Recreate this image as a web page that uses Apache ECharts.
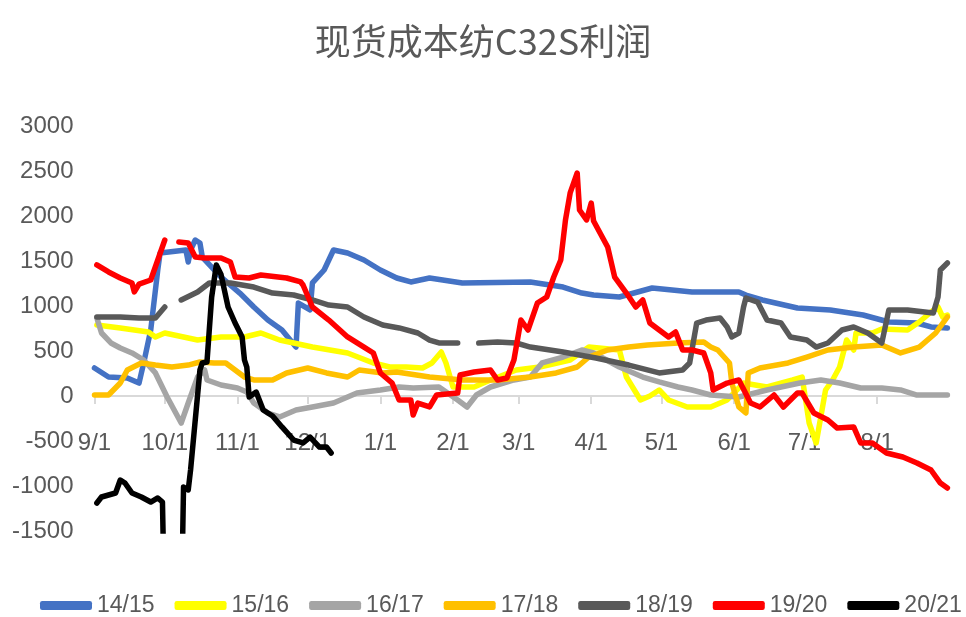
<!DOCTYPE html>
<html>
<head>
<meta charset="utf-8">
<script src="https://cdn.jsdelivr.net/npm/echarts@6/dist/echarts.min.js"></script>
<style>
html,body{margin:0;padding:0;background:#fff;}
#chart{width:966px;height:617px;}
</style>
</head>
<body>
<div id="chart"></div>
<script>
// x轴: 9/1 ~ 8/31 每天一个类目
var monthNums = [9, 10, 11, 12, 1, 2, 3, 4, 5, 6, 7, 8];
var monthDays = [30, 31, 30, 31, 31, 28, 31, 30, 31, 30, 31, 31];
var categories = [];
for (var m = 0; m < monthNums.length; m++) {
    for (var d = 1; d <= monthDays[m]; d++) {
        categories.push(monthNums[m] + '/' + d);
    }
}

var seasonNames = ['14/15', '15/16', '16/17', '17/18', '18/19', '19/20', '20/21'];
var seasonColors = ['#4472C4', '#FFFF00', '#A5A5A5', '#FFC000', '#595959', '#FF0000', '#000000'];

// [距9/1的天数, 利润]
var s1415 = [[0,311],[6,211],[14,200],[19,144],[21,367],[24,733],[27,1400],[28,1589],[39,1622],[40,1489],[41,1622],[43,1733],[45,1700],[46,1544],[54,1322],[62,1144],[68,989],[74,844],[80,733],[86,544],[87,1033],[92,956],[93,1256],[98,1400],[102,1622],[108,1589],[115,1511],[122,1400],[129,1311],[135,1267],[143,1311],[157,1256],[186,1267],[200,1211],[208,1144],[213,1122],[224,1100],[238,1200],[255,1156],[275,1156],[278,1122],[285,1067],[300,978],[314,956],[328,900],[339,822],[351,811],[357,767],[364,756]];
var s1516 = [[1,789],[11,756],[23,711],[26,656],[30,700],[44,622],[54,656],[64,656],[71,700],[79,622],[93,544],[108,478],[119,367],[126,322],[133,322],[140,311],[144,367],[148,489],[150,367],[153,100],[162,100],[169,178],[180,289],[190,322],[203,400],[211,544],[224,511],[227,211],[233,-44],[237,0],[241,67],[245,-44],[253,-122],[263,-122],[270,-44],[277,144],[287,100],[298,178],[302,211],[305,-300],[308,-522],[312,67],[315,178],[318,322],[321,622],[324,511],[325,700],[332,700],[336,744],[347,733],[352,822],[357,933],[360,989],[362,878],[364,900]];
var s1617 = [[1,867],[3,700],[7,589],[11,533],[16,478],[21,400],[26,256],[31,-11],[37,-300],[40,-78],[44,211],[47,289],[48,178],[54,122],[61,89],[65,44],[68,-78],[74,-189],[79,-233],[86,-156],[93,-122],[102,-78],[112,33],[122,67],[130,100],[136,89],[147,100],[155,-44],[159,-122],[163,11],[169,100],[179,178],[186,211],[191,367],[200,433],[208,511],[213,478],[224,322],[234,211],[241,156],[249,100],[255,67],[263,11],[275,-11],[287,67],[293,100],[301,144],[310,178],[318,144],[327,89],[336,89],[344,67],[351,11],[364,11]];
var s1718 = [[0,11],[6,11],[11,144],[14,289],[20,367],[26,344],[33,322],[40,344],[45,378],[51,367],[56,367],[60,289],[64,211],[68,178],[76,178],[82,256],[91,311],[99,256],[108,211],[113,289],[123,256],[129,267],[143,211],[157,178],[172,178],[186,211],[197,256],[206,322],[211,433],[219,511],[228,544],[236,567],[249,589],[260,600],[263,544],[266,511],[271,367],[272,144],[275,-122],[278,-189],[279,256],[284,311],[296,367],[304,433],[313,511],[324,544],[336,567],[344,478],[352,544],[359,700],[364,878]];
var s1819 = [[1,878],[11,878],[19,867],[26,867],[30,989],[33,null],[37,1067],[44,1156],[49,1256],[58,1256],[68,1211],[76,1144],[85,1122],[93,1067],[100,1011],[108,989],[115,878],[123,789],[130,756],[138,700],[143,622],[147,589],[155,589],[160,null],[164,589],[172,600],[180,589],[186,544],[200,489],[214,422],[228,344],[241,256],[251,289],[254,367],[257,811],[261,844],[267,867],[270,767],[272,656],[275,700],[277,989],[278,1089],[283,1044],[287,844],[293,811],[297,656],[304,622],[308,544],[313,589],[319,733],[324,767],[330,700],[336,589],[339,956],[347,956],[358,922],[360,1100],[361,1400],[364,1478]];
var s1920 = [[1,1456],[6,1378],[11,1311],[16,1256],[17,1156],[19,1244],[24,1289],[27,1511],[30,1733],[33,null],[36,1711],[40,1700],[43,1544],[47,1533],[54,1533],[58,1489],[60,1322],[66,1311],[71,1344],[82,1311],[88,1267],[89,1233],[93,989],[100,844],[108,656],[115,544],[119,478],[122,256],[127,144],[130,-44],[135,-44],[136,-211],[138,-78],[143,-122],[146,11],[155,33],[156,233],[162,267],[169,289],[172,178],[176,200],[179,400],[182,844],[185,733],[189,1033],[193,1100],[196,1322],[199,1511],[201,1956],[203,2256],[206,2478],[207,2067],[210,1956],[212,2144],[213,1944],[219,1656],[222,1322],[227,1144],[231,989],[234,1067],[237,811],[241,733],[245,656],[248,711],[251,511],[255,511],[260,478],[263,256],[264,67],[270,144],[275,178],[280,-78],[284,-122],[290,11],[294,-122],[300,33],[302,33],[307,-189],[313,-267],[317,-356],[324,-344],[327,-522],[332,-522],[338,-633],[345,-678],[351,-744],[357,-822],[361,-967],[364,-1022]];
var s2021 = [[1,-1189],[3,-1122],[9,-1078],[11,-933],[13,-967],[16,-1078],[20,-1122],[24,-1178],[27,-1133],[29,-1178],[30,-2500],[37,-2500],[38,-1011],[40,-1044],[41,-822],[45,289],[46,367],[48,378],[50,1100],[52,1456],[54,1350],[57,989],[60,811],[63,656],[64,400],[65,322],[66,-11],[69,44],[72,-156],[76,-222],[80,-344],[85,-489],[89,-522],[92,-456],[96,-567],[99,-567],[101,-633]];

var seasonData = [s1415, s1516, s1617, s1718, s1819, s1920, s2021];

var labelFont = "'Liberation Sans', sans-serif";
var isMonthStart = function (index, value) {
    return /\/1$/.test(value);
};

var series = [];
for (var i = 0; i < seasonNames.length; i++) {
    series.push({
        name: seasonNames[i],
        type: 'line',
        data: seasonData[i],
        showSymbol: false,
        connectNulls: false,
        clip: true,
        lineStyle: { width: 5.5, color: seasonColors[i], cap: 'round', join: 'round' },
        itemStyle: { color: seasonColors[i] }
    });
}

var option = {
    animation: false,
    backgroundColor: '#ffffff',
    title: {
        text: '现货成本纺C32S利润',
        left: 'center',
        top: 18,
        textStyle: { fontFamily: "'Noto Sans CJK SC'", fontSize: 36, fontWeight: 'normal', color: '#595959' }
    },
    legend: {
        left: 35,
        top: 589,
        width: 940,
        itemWidth: 52,
        itemHeight: 9,
        itemGap: 20,
        icon: 'roundRect',
        data: seasonNames,
        textStyle: { fontFamily: labelFont, fontSize: 23, color: '#595959' }
    },
    grid: { left: 94.5, right: 18.6, top: 126, bottom: 86, containLabel: false },
    xAxis: {
        type: 'category',
        data: categories,
        boundaryGap: false,
        // 轴线放在 y=0 处
        offset: -135,
        axisLine: { onZero: false, lineStyle: { color: '#D9D9D9', width: 2 } },
        axisTick: { show: true, interval: isMonthStart, length: 8, lineStyle: { color: '#D9D9D9', width: 2 } },
        axisLabel: { interval: isMonthStart, margin: 35, fontFamily: labelFont, fontSize: 24, color: '#595959' },
        splitLine: { show: false }
    },
    yAxis: {
        type: 'value',
        min: -1500,
        max: 3000,
        interval: 500,
        axisLine: { show: false },
        axisTick: { show: false },
        splitLine: { show: false },
        axisLabel: {
            margin: 21, fontFamily: labelFont, fontSize: 24, color: '#595959',
            formatter: function (v) { return String(v); }
        }
    },
    series: series
};

var chart = echarts.init(document.getElementById('chart'));
chart.setOption(option);
</script>
</body>
</html>
